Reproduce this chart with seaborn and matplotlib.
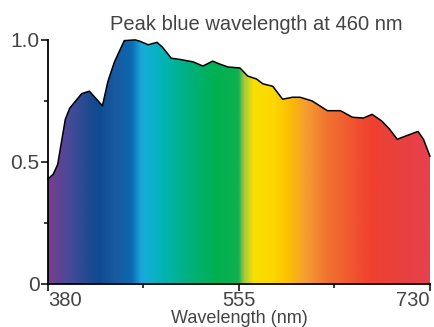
import numpy as np
import pandas as pd
import seaborn as sns
import matplotlib.pyplot as plt
from matplotlib.colors import LinearSegmentedColormap

# Spectrum outline
wavelength = [380, 385, 389, 396, 400, 411, 418, 423, 430, 435, 441, 450, 460, 464,
              472, 480, 485, 493, 501, 513, 522, 531, 538, 545, 556, 563, 571, 577,
              586, 595, 604, 611, 622, 636, 648, 659, 669, 677, 686, 693, 700, 707,
              719, 724, 730]
intensity = [0.43, 0.45, 0.49, 0.675, 0.72, 0.78, 0.79, 0.765, 0.73, 0.83, 0.91, 0.997,
             1.0, 0.995, 0.98, 0.99, 0.97, 0.925, 0.92, 0.91, 0.893, 0.913, 0.90, 0.889,
             0.885, 0.852, 0.84, 0.82, 0.81, 0.757, 0.765, 0.765, 0.75, 0.71, 0.71,
             0.683, 0.68, 0.695, 0.667, 0.634, 0.593, 0.605, 0.625, 0.593, 0.523]

# colour stops of the rainbow fill
stop_nm = [380, 398, 417, 426, 441, 456, 465, 472, 487, 508, 533, 554, 559, 568,
           585, 600, 615, 637, 676, 707, 730]
stop_col = ['#7a3c8c', '#4a4a9a', '#1e4a90', '#0d4a92', '#1a5aa0', '#0a6ab0',
            '#1aa8dc', '#10b0d0', '#00b4b0', '#00b080', '#00b050', '#10b050',
            '#a0c840', '#f8e000', '#fcd800', '#fcc000', '#f4a030', '#f07030',
            '#f04030', '#e84040', '#e84050']

x_ticks = [380, 555, 730]
y_ticks = [0, 0.5, 1.0]
y_tick_labels = ['0', '0.5', '1.0']

df = pd.DataFrame({'wavelength': wavelength, 'intensity': intensity})

sns.set_style('ticks')
plt.rcParams['font.family'] = ['Liberation Sans', 'DejaVu Sans']

fig = plt.figure(figsize=(4.35, 3.27), dpi=100)
ax = fig.add_axes([0.110, 0.1315, 0.8785, 0.7465])

pos = [(w - stop_nm[0]) / (stop_nm[-1] - stop_nm[0]) for w in stop_nm]
cmap = LinearSegmentedColormap.from_list('spec', list(zip(pos, stop_col)))
grad = np.linspace(0, 1, 512).reshape(1, -1)

poly = ax.fill_between(df['wavelength'], 0, df['intensity'], facecolor='none', lw=0)
im = ax.imshow(grad, extent=[380, 730, 0, 1.0], aspect='auto', cmap=cmap,
               interpolation='bilinear', zorder=1)
im.set_clip_path(poly.get_paths()[0], transform=ax.transData)

sns.lineplot(data=df, x='wavelength', y='intensity', color='black', lw=1.1,
             ax=ax, zorder=3, clip_on=False)

ax.set_xlim(380, 730)
ax.set_ylim(0, 1.0)
ax.set_xticks(x_ticks)
ax.set_xticks([467.5, 642.5], minor=True)
ax.set_yticks(y_ticks)
ax.set_yticklabels(y_tick_labels)
ax.set_yticks([0.25, 0.75], minor=True)
ax.tick_params(which='major', length=5, width=1.3, labelsize=15, labelcolor='#444444',
               pad=1)
ax.tick_params(axis='x', which='major', labelsize=14.5, pad=0)
ax.tick_params(which='minor', length=3, width=1.3)
xl = ax.get_xticklabels()
xl[0].set_horizontalalignment('left')
xl[-1].set_horizontalalignment('right')
ax.set_xlabel('Wavelength (nm)', fontsize=13, color='#444444', labelpad=0)
ax.set_ylabel('')
sns.despine(ax=ax)
for s in ['left', 'bottom']:
    ax.spines[s].set_linewidth(1.3)
    ax.spines[s].set_color('black')

fig.text(0.59, 0.925, 'Peak blue wavelength at 460 nm', fontsize=14.5,
         color='#444444', ha='center', va='center')

plt.savefig('out.png', dpi=100)
